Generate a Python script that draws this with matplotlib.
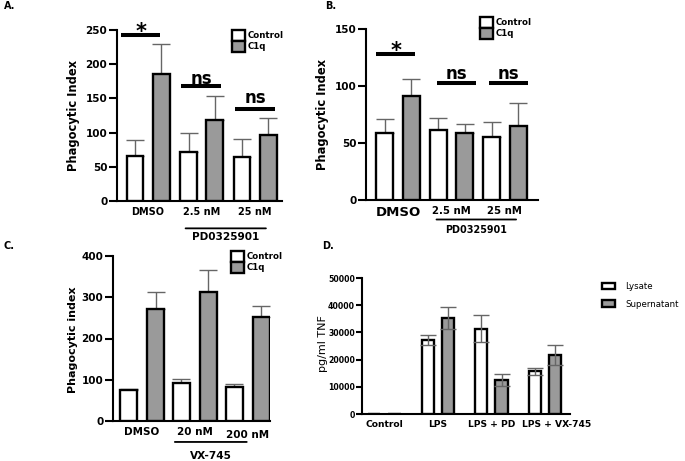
import matplotlib
matplotlib.use("Agg")
import matplotlib.pyplot as plt
import numpy as np

# ---- data ----
groups_a = ["DMSO", "2.5 nM", "25 nM"]
ctrl_a = [66, 71, 64]
ctrl_a_err = [23, 29, 27]
c1q_a = [185, 118, 97]
c1q_a_err = [44, 36, 24]

groups_b = ["DMSO", "2.5 nM", "25 nM"]
ctrl_b = [59, 61, 55]
ctrl_b_err = [12, 11, 13]
c1q_b = [91, 59, 65]
c1q_b_err = [15, 8, 20]

groups_c = ["DMSO", "20 nM", "200 nM"]
ctrl_c = [75, 92, 82]
ctrl_c_err = [3, 11, 8]
c1q_c = [272, 312, 253]
c1q_c_err = [40, 55, 25]

groups_d = ["Control", "LPS", "LPS + PD", "LPS + VX-745"]
lysate = [0, 27300, 31400, 15700]
lysate_err = [0, 1900, 5000, 1200]
supern = [0, 35300, 12500, 21700]
supern_err = [0, 3900, 2300, 3800]

W, H = 685, 461
GRAY = "#9a9a9a"
ERR = "#666666"
plt.rcParams["font.family"] = "DejaVu Sans"

fig = plt.figure(figsize=(W / 100, H / 100), dpi=100)


def px_axes(left, top, right, bottom):
    return fig.add_axes([left / W, 1 - bottom / H, (right - left) / W, (bottom - top) / H])


def style(ax, tsize, tlen=6):
    for s in ["top", "right"]:
        ax.spines[s].set_visible(False)
    for s in ["left", "bottom"]:
        ax.spines[s].set_linewidth(1.5)
    ax.tick_params(axis="y", length=tlen, width=1.5, pad=1)
    ax.tick_params(axis="x", length=0, pad=4)
    for lab in ax.get_yticklabels():
        lab.set_fontweight("bold")
        lab.set_fontsize(tsize)


def paired(ax, ctrl, cerr, c1q, qerr, off, w):
    x = np.arange(len(ctrl))
    ax.bar(x - off, ctrl, w, color="white", edgecolor="black", linewidth=1.7, zorder=3, label="Control")
    ax.bar(x + off, c1q, w, color=GRAY, edgecolor="black", linewidth=1.7, zorder=3, label="C1q")
    ye1 = [np.zeros(len(cerr)), cerr]
    ye2 = [np.zeros(len(qerr)), qerr]
    ax.errorbar(x - off, ctrl, yerr=ye1, fmt="none", ecolor=ERR, elinewidth=1, capsize=6.5, capthick=1, zorder=2)
    ax.errorbar(x + off, c1q, yerr=ye2, fmt="none", ecolor=ERR, elinewidth=1, capsize=6.5, capthick=1, zorder=2)
    return x


def sig(ax, x0, x1, y, text, ty, size):
    ax.plot([x0, x1], [y, y], color="black", lw=2.9, clip_on=False, solid_capstyle="butt")
    ax.text((x0 + x1) / 2, ty, text, ha="center", va="baseline", fontsize=size,
            fontweight="bold", clip_on=False)


def group_label(ax, x0, x1, yline, ytext, text, size):
    ax.annotate("", xy=(x0, yline), xytext=(x1, yline), xycoords=("data", "axes fraction"),
                textcoords=("data", "axes fraction"),
                arrowprops=dict(arrowstyle="-", lw=1.3, color="black", shrinkA=0, shrinkB=0))
    ax.annotate(text, xy=((x0 + x1) / 2, ytext), xycoords=("data", "axes fraction"),
                ha="center", va="center", fontsize=size, fontweight="bold",
                annotation_clip=False)


def box_legend(ax, x, y, size=6.2):
    ax.legend(loc="upper left", bbox_to_anchor=(x / W, 1 - y / H),
              bbox_transform=fig.transFigure, frameon=False, handlelength=1.55,
              handleheight=1.6, handletextpad=0.3, labelspacing=0.0,
              borderaxespad=0, borderpad=0, prop=dict(weight="bold", size=size))


# ---- Panel A ----
axA = px_axes(117, 30, 282, 201)
x = paired(axA, ctrl_a, ctrl_a_err, c1q_a, c1q_a_err, 0.245, 0.31)
axA.set_xlim(-0.58, 2.5)
axA.set_ylim(0, 250)
axA.set_yticks([0, 50, 100, 150, 200, 250])
axA.set_xticks(x)
axA.set_xticklabels(groups_a, fontsize=7, fontweight="bold")
style(axA, 7.5)
axA.set_ylabel("Phagocytic Index", fontsize=8.3, fontweight="bold")
axA.yaxis.set_label_coords(-0.227, 0.5)
sig(axA, -0.5, 0.22, 243, "*", 238, 15)
sig(axA, 0.62, 1.36, 168, "ns", 171, 12)
sig(axA, 1.63, 2.36, 135, "ns", 143, 12)
group_label(axA, 0.7, 2.2, -0.16, -0.21, "PD0325901", 7.6)
box_legend(axA, 232, 30)
fig.text(4 / W, 1 - 6 / H, "A.", fontsize=7, fontweight="bold", va="center")

# ---- Panel B ----
axB = px_axes(366, 29, 538, 200)
x = paired(axB, ctrl_b, ctrl_b_err, c1q_b, c1q_b_err, 0.25, 0.32)
axB.set_xlim(-0.6, 2.62)
axB.set_ylim(0, 150)
axB.set_yticks([0, 50, 100, 150])
axB.set_xticks(x)
axB.set_xticklabels(groups_b, fontsize=7.3, fontweight="bold")
axB.get_xticklabels()[0].set_fontsize(9.5)
style(axB, 7.5)
axB.set_ylabel("Phagocytic Index", fontsize=8.3, fontweight="bold")
axB.yaxis.set_label_coords(-0.218, 0.5)
sig(axB, -0.41, 0.32, 128.3, "*", 125.5, 15)
sig(axB, 0.73, 1.46, 102.3, "ns", 106.5, 12)
sig(axB, 1.7, 2.43, 102.3, "ns", 106.5, 12)
group_label(axB, 0.72, 2.21, -0.114, -0.175, "PD0325901", 6.9)
box_legend(axB, 480, 17)
fig.text(325 / W, 1 - 6 / H, "B.", fontsize=7, fontweight="bold", va="center")

# ---- Panel C ----
axC = px_axes(113, 256, 270, 421)
x = paired(axC, ctrl_c, ctrl_c_err, c1q_c, c1q_c_err, 0.255, 0.32)
axC.set_xlim(-0.55, 2.42)
axC.set_ylim(0, 400)
axC.set_yticks([0, 100, 200, 300, 400])
axC.set_xticks(x)
axC.set_xticklabels(groups_c, fontsize=7.5, fontweight="bold")
style(axC, 7.5)
axC.xaxis.get_major_ticks()[-1].set_pad(6.5)
axC.set_ylabel("Phagocytic index", fontsize=8, fontweight="bold")
axC.yaxis.set_label_coords(-0.226, 0.49)
group_label(axC, 0.62, 1.98, -0.127, -0.21, "VX-745", 7.6)
box_legend(axC, 231, 251)
fig.text(4 / W, 1 - 246 / H, "C.", fontsize=7, fontweight="bold", va="center")

# ---- Panel D ----
axD = px_axes(362, 278, 570, 414)
xd = np.arange(len(groups_d))
off, w = 0.19, 0.23
axD.bar(xd - off, lysate, w, color="white", edgecolor="black", linewidth=1.7, zorder=3, label="Lysate")
axD.bar(xd + off, supern, w, color=GRAY, edgecolor="black", linewidth=1.7, zorder=3, label="Supernatant")
m = np.array(lysate) > 0
axD.errorbar((xd - off)[m], np.array(lysate)[m], yerr=np.array(lysate_err)[m], fmt="none",
             ecolor=ERR, elinewidth=1, capsize=5.5, capthick=1, zorder=4)
m = np.array(supern) > 0
axD.errorbar((xd + off)[m], np.array(supern)[m], yerr=np.array(supern_err)[m], fmt="none",
             ecolor=ERR, elinewidth=1, capsize=5.5, capthick=1, zorder=4)
axD.set_xlim(-0.42, 3.47)
axD.set_ylim(0, 50000)
axD.set_yticks([0, 10000, 20000, 30000, 40000, 50000])
# last label sits a little right of its group in the original
label_pos = xd + np.array([0, 0, 0, 12 / 53])
axD.set_xticks(label_pos)
axD.set_xticklabels(groups_d, fontsize=6.6, fontweight="bold")
style(axD, 5.6, tlen=4)
axD.set_ylabel("pg/ml TNF", fontsize=8)
axD.yaxis.set_label_coords(-0.163, 0.515)
axD.legend(loc="upper left", bbox_to_anchor=(602 / W, 1 - 282 / H), bbox_transform=fig.transFigure,
           frameon=False, handlelength=1.5, handleheight=0.75, handletextpad=1.2, labelspacing=1.0,
           borderaxespad=0, borderpad=0, prop=dict(size=6.2))
fig.text(322 / W, 1 - 246 / H, "D.", fontsize=7, fontweight="bold", va="center")

fig.savefig("out.png", dpi=100)
